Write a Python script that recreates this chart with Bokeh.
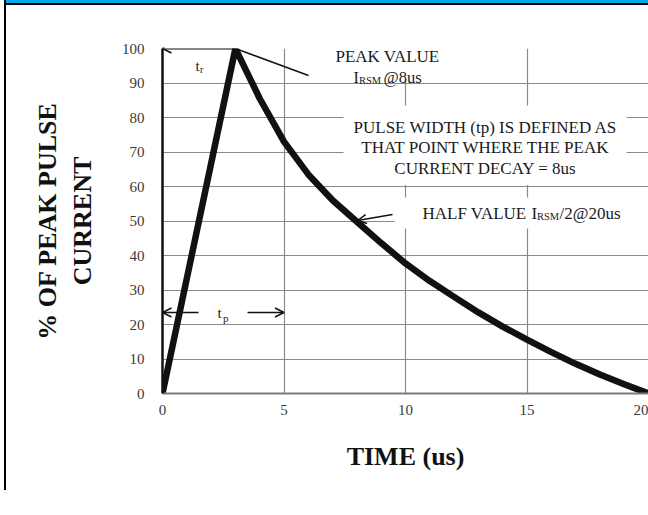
from bokeh.plotting import figure
from bokeh.models import FixedTicker, Label, BoxAnnotation, Arrow, OpenHead, Range1d
from bokeh.embed import file_html
from bokeh.resources import INLINE

# ---- data ----
time_us = [0, 3, 4, 5, 6, 7, 8, 9, 10, 11, 12, 13, 14, 15, 16, 17, 18, 19, 20]
pct_peak = [0, 100, 85.5, 73, 63.5, 56, 49.8, 43.6, 37.7, 32.6, 28, 23.5, 19.4, 15.6, 12, 8.6, 5.5, 2.7, 0]
x_ticks = [0, 5, 10, 15, 20]
x_grid = [5, 10, 15]
y_ticks = [0, 10, 20, 30, 40, 50, 60, 70, 80, 90, 100]

SERIF = "Liberation Serif"
INK = "#1a1a1a"

p = figure(width=642, height=490,
           x_range=Range1d(0, 20), y_range=Range1d(0, 100),
           output_backend="svg", toolbar_location=None,
           min_border_left=156, min_border_right=0,
           min_border_top=43, min_border_bottom=102)
# window frame drawn as shadows in the page margin: blue band + black rule on top, black rule at left
p.styles = {
    "margin-left": "6px",
    "margin-top": "5px",
    "box-shadow": "0 -2px 0 0 #000000, 0 -5px 0 0 #00a9e8, -2px -5px 0 0 #000000",
}
p.outline_line_color = None
p.background_fill_color = "white"
p.border_fill_color = "white"

# axes
p.xaxis.ticker = FixedTicker(ticks=x_ticks)
p.yaxis.ticker = FixedTicker(ticks=y_ticks)
for ax in (p.xaxis, p.yaxis):
    ax.major_tick_line_color = None
    ax.minor_tick_line_color = None
    ax.major_tick_out = 0
    ax.major_tick_in = 0
    ax.major_label_text_font = SERIF
    ax.major_label_text_font_size = "15px"
    ax.major_label_text_color = "#3a3a3a"
    ax.axis_label_text_font = SERIF
    ax.axis_label_text_font_style = "bold"
    ax.axis_label_text_font_size = "26px"
    ax.axis_label_text_color = "#111111"
p.xaxis.axis_line_color = "#7a7a7a"
p.xaxis.axis_line_width = 2
p.yaxis.axis_line_color = "#111111"
p.yaxis.axis_line_width = 2.5
p.xaxis.major_label_standoff = 11
p.yaxis.major_label_standoff = 18
p.xaxis.axis_label = "TIME (us)"
p.xaxis.axis_label_standoff = 24
p.yaxis.axis_label = "% OF PEAK PULSE\nCURRENT"
p.yaxis.axis_label_standoff = 22

# grid
p.xgrid.ticker = FixedTicker(ticks=x_grid)
p.ygrid.ticker = FixedTicker(ticks=y_ticks)
for g in (p.xgrid, p.ygrid):
    g.grid_line_color = "#8a8a8a"
    g.grid_line_width = 1.2

# pulse curve
p.line(time_us, pct_peak, line_color="#111111", line_width=6.5, line_join="round", line_cap="round")

# helpers: page pixel -> data coordinates (frame 0 at x=162, y=393 page px)
def dx(px):
    return (px - 162) / 24.3

def dy(py):
    return (393 - py) / 3.45

# white boxes behind the notes
for l, r, b, t in [(dx(330), dx(467), 90.6, 101),
                   (dx(343), dx(626), 60.4, dy(105)),
                   (dx(394), 20, dy(228), dy(197))]:
    p.add_layout(BoxAnnotation(left=l, right=r, bottom=b, top=t,
                               fill_color="white", fill_alpha=1, line_color=None))

def lab(x, y, text, size="16px", align="left", color=INK):
    p.add_layout(Label(x=x, y=y, text=text, text_font=SERIF, text_font_size=size,
                       text_align=align, text_baseline="middle", text_color=color))

# PEAK VALUE note
lab(dx(387), dy(56), "PEAK VALUE", "17px", "center")
lab(dx(353), dy(77), "I", "16px")
lab(dx(358.5), dy(80), "RSM", "10.5px")
lab(dx(383), dy(77), "@8us", "16.5px")

# pulse width definition
lab(dx(485), dy(127), "PULSE WIDTH (tp) IS DEFINED AS", "17px", "center")
lab(dx(485), dy(147), "THAT POINT WHERE THE PEAK", "17px", "center")
lab(dx(485), dy(168), "CURRENT DECAY = 8us", "17px", "center")

# half value note
lab(dx(422), dy(213), "HALF VALUE", "17px")
lab(dx(531), dy(213), "I", "17px")
lab(dx(536.5), dy(216), "RSM", "10.5px")
lab(dx(559), dy(213), "/2@20us", "17px")

# t_r and t_p labels
lab(dx(195), dy(65), "t", "15px")
lab(dx(199.5), dy(69), "r", "10px")
lab(dx(217), dy(312), "t", "15px")
lab(dx(222.5), dy(317), "p", "11px")

def head():
    return OpenHead(size=9, line_width=1.5, line_color="#111111")

peak_x, peak_y = time_us[1], pct_peak[1]
# t_r arrow along the 100% line
p.add_layout(Arrow(x_start=peak_x, y_start=peak_y, x_end=0, y_end=peak_y,
                   end=head(), line_width=1.8, line_color="#111111"))
# t_p arrows
p.add_layout(Arrow(x_start=dx(198), y_start=dy(312), x_end=0, y_end=dy(312),
                   end=head(), line_width=1.5, line_color="#111111"))
p.add_layout(Arrow(x_start=dx(247), y_start=dy(312), x_end=5, y_end=dy(312),
                   end=head(), line_width=1.5, line_color="#111111"))
# peak value pointer
p.add_layout(Arrow(x_start=peak_x, y_start=peak_y, x_end=dx(308), y_end=dy(75),
                   end=None, line_width=1.5, line_color="#111111"))
# half value pointer
p.add_layout(Arrow(x_start=dx(392), y_start=dy(214), x_end=dx(357), y_end=dy(220),
                   end=head(), line_width=1.5, line_color="#111111"))

open("out.html", "w").write(file_html(p, INLINE))
